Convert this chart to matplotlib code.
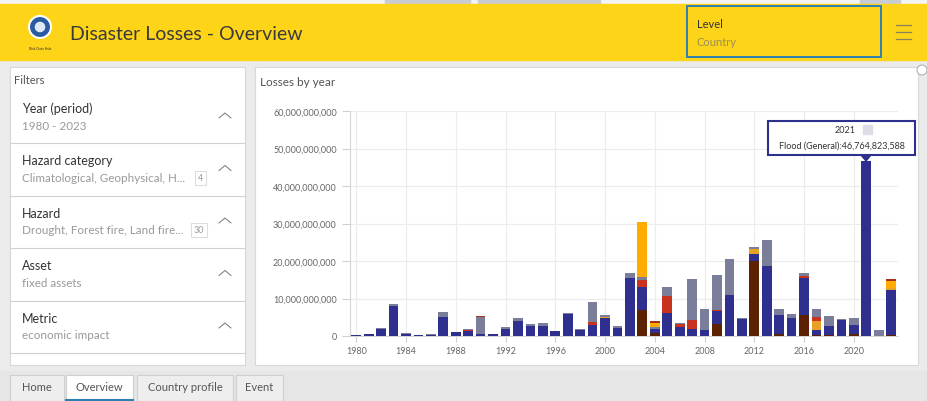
import numpy as np
import matplotlib
matplotlib.use("Agg")
import matplotlib.pyplot as plt
from matplotlib.patches import Rectangle, Circle, Polygon
import matplotlib.ticker as ticker

plt.rcParams['font.family'] = ['Lato', 'DejaVu Sans']

# Data (billions of currency units)
years = list(range(1980, 2024))
drought = [0, 0, 0, 0, 0, 0, 0, 0, 0, 0, 0, 0, 0, 0, 0, 0, 0, 0, 0, 0,
           0, 0, 0, 6.9, 0.9, 0, 0, 0, 0, 3.3, 0, 0, 20.0, 0, 0.5, 0,
           5.6, 0.2, 0.4, 0, 0.6, 0, 0, 0.3]
flood = [0.2, 0.5, 1.9, 8.1, 0.6, 0.3, 0.4, 5.2, 1.0, 1.4, 0.5, 0.5, 2.0,
         4.0, 2.8, 2.6, 1.4, 6.0, 1.5, 3.0, 4.8, 2.1, 15.5, 6.3, 0.9, 6.2,
         2.3, 2.0, 1.7, 3.4, 10.9, 4.6, 1.8, 18.6, 5.2, 4.8, 10.0, 1.5,
         2.4, 4.4, 2.3, 46.764823588, 0, 11.9]
heat_wave = [0, 0, 0, 0, 0, 0, 0, 0, 0, 0, 0, 0, 0, 0, 0, 0, 0, 0, 0, 0,
             0.3, 0, 0, 0, 0, 0, 0, 0, 0, 0, 0, 0, 1.5, 0, 0, 0, 0, 2.4,
             0, 0, 0, 0, 0, 0.6]
earthquake = [0, 0, 0, 0, 0, 0, 0, 0, 0, 0.2, 0, 0, 0, 0, 0, 0, 0, 0, 0,
              0.7, 0, 0, 0, 1.8, 0, 4.6, 1.0, 2.3, 0, 0.2, 0, 0, 0, 0,
              0, 0, 0.3, 1.1, 0, 0, 0, 0, 0, 0]
storm = [0, 0, 0.2, 0.4, 0.2, 0.05, 0.1, 1.1, 0, 0.3, 4.5, 0, 0.3, 0.9,
         0.5, 1.0, 0, 0.2, 0.4, 5.4, 0.4, 0.5, 1.3, 0.7, 0.5, 2.3, 0.2,
         10.8, 5.5, 9.4, 9.7, 0.2, 0.5, 7.1, 1.5, 1.0, 1.0, 2.0, 2.5, 0.1,
         1.9, 0, 1.6, 0]
forest_fire = [0, 0, 0, 0, 0, 0, 0, 0, 0, 0, 0, 0, 0, 0, 0, 0, 0, 0, 0, 0,
               0, 0, 0, 14.8, 1.3, 0, 0, 0, 0, 0, 0, 0, 0, 0, 0, 0, 0, 0,
               0, 0, 0, 0, 0, 1.8]
land_fire = [0, 0, 0, 0, 0, 0, 0, 0, 0, 0, 0.3, 0, 0, 0, 0, 0, 0, 0, 0, 0,
             0, 0, 0, 0, 0.4, 0, 0, 0, 0, 0, 0, 0, 0, 0, 0, 0, 0, 0,
             0, 0, 0, 0, 0, 0.5]

series = [("Drought", drought, "#5b2100"),
          ("Flood (General)", flood, "#2e2f8f"),
          ("Heat wave", heat_wave, "#e8a124"),
          ("Earthquake", earthquake, "#c8321e"),
          ("Storm", storm, "#7a7e9b"),
          ("Forest fire", forest_fire, "#ffab00"),
          ("Land fire", land_fire, "#a8301a")]

filters = [("Year (period)", "1980 - 2023", None),
           ("Hazard category", "Climatological, Geophysical, H...", "4"),
           ("Hazard", "Drought, Forest fire, Land fire...", "30"),
           ("Asset", "fixed assets", None),
           ("Metric", "economic impact", None)]
tabs = ["Home", "Overview", "Country profile", "Event"]

W, H = 927, 402
fig = plt.figure(figsize=(W / 100, H / 100), dpi=100)
fig.patch.set_facecolor("#ebebeb")

# Page overlay in pixel coordinates
bg = fig.add_axes([0, 0, 1, 1])
bg.set_xlim(0, W)
bg.set_ylim(H, 0)
bg.axis("off")

# browser strip + yellow header
bg.add_patch(Rectangle((0, 0), W, 5, color="#f4f4f4"))
for x0, x1 in [(385, 470), (478, 600), (860, 900)]:
    bg.add_patch(Rectangle((x0, 0), x1 - x0, 4, color="#c9cdd3"))
bg.add_patch(Rectangle((0, 5), W, 56, color="#fdd417"))
bg.add_patch(Circle((40, 28), 11, facecolor="#2a5aa0", edgecolor="#ffffff", lw=1.5))
bg.add_patch(Circle((40, 28), 6, facecolor="#dfe8f4", edgecolor="#2a5aa0", lw=1))
bg.text(40, 49, "Risk Data Hub", fontsize=2.5, ha="center", va="center", color="#333")
bg.text(70, 34, "Disaster Losses - Overview", fontsize=14, color="#3a3a3a",
        ha="left", va="center")
bg.add_patch(Rectangle((687, 7), 194, 51, fill=False, edgecolor="#2f7fb3", lw=1.4))
bg.text(697, 24, "Level", fontsize=8, color="#333", va="center")
bg.text(697, 43, "Country", fontsize=8, color="#9a8f5a", va="center")
for yy in [26, 33, 40]:
    bg.plot([896, 911], [yy, yy], color="#8a8060", lw=0.9)

# left filter panel
bg.add_patch(Rectangle((10, 68), 235, 298, facecolor="white", edgecolor="#d8d8d8", lw=0.8))
bg.text(14, 80, "Filters", fontsize=8, color="#555", va="center")
for i, (title, sub, badge) in enumerate(filters):
    y0 = 92 + i * 52.5
    bg.text(22, y0 + 17, title, fontsize=9, color="#333", va="center")
    bg.text(22, y0 + 34, sub, fontsize=8.4, color="#999", va="center")
    bg.plot([219, 225, 231], [y0 + 27, y0 + 22, y0 + 27], color="#777", lw=0.7)
    if badge:
        bw = 16 if len(badge) == 2 else 11
        bx = 191 if len(badge) == 2 else 195
        bg.add_patch(Rectangle((bx, y0 + 27), bw, 14,
                               fill=False, edgecolor="#ddd", lw=0.8))
        bg.text(bx + bw / 2, y0 + 34, badge, fontsize=6.5,
                color="#999", ha="center", va="center")
    bg.plot([11, 244], [y0 + 52, y0 + 52], color="#d0d0d0", lw=0.8)

# right chart panel
bg.add_patch(Rectangle((255, 68), 663, 298, facecolor="white", edgecolor="#d8d8d8", lw=0.8))
bg.text(260, 82, "Losses by year", fontsize=8.5, color="#555", va="center")
bg.add_patch(Circle((922, 71), 5, facecolor="white", edgecolor="#aaa", lw=0.7))

# bottom tabs
bg.add_patch(Rectangle((0, 372), W, 30, color="#e6e6e6"))
tab_x = [10, 66, 137, 236]
tab_w = [54, 67, 96, 47]
for name, x0, w in zip(tabs, tab_x, tab_w):
    active = name == "Overview"
    bg.add_patch(Rectangle((x0, 376), w, 26, facecolor="white" if active else "#eeeeee",
                           edgecolor="#cfcfcf", lw=0.8))
    bg.text(x0 + w / 2, 388, name, fontsize=8, color="#555", ha="center", va="center")
    if active:
        bg.plot([x0, x0 + w], [401, 401], color="#2f7fb3", lw=1.5)

# chart
ax = fig.add_axes([350 / W, (H - 337) / H, 548 / W, 225 / H])
x = np.array(years)
bottom = np.zeros(len(years))
for name, vals, color in series:
    v = np.array(vals) * 1e9
    ax.bar(x, v, width=0.78, bottom=bottom, color=color, label=name, zorder=3)
    bottom += v

ax.set_xlim(1979.5, 2023.55)
ax.set_ylim(0, 60e9)
ax.set_xticks(range(1980, 2024, 4))
ax.set_yticks(np.arange(0, 61e9, 10e9))
ax.yaxis.set_major_formatter(ticker.FuncFormatter(lambda v, p: "{:,.0f}".format(v)))
ax.grid(True, color="#ececec", lw=0.8, zorder=0)
for s in ["top", "right"]:
    ax.spines[s].set_visible(False)
ax.spines["left"].set_color("#d6d6d6")
ax.spines["bottom"].set_color("#d6d6d6")
ax.tick_params(colors="#d0d0d0", labelcolor="#666", labelsize=6.5, length=4, width=0.8)
ax.tick_params(axis="y", length=6)
ax.set_facecolor("white")

# tooltip for 2021
tip = fig.add_axes([0, 0, 1, 1], facecolor="none")
tip.set_xlim(0, W)
tip.set_ylim(H, 0)
tip.axis("off")
tip.add_patch(Rectangle((768, 122), 147, 34, facecolor="white", edgecolor="#2e2f8f", lw=1.5, zorder=5))
tip.add_patch(Polygon([[861, 156], [871, 156], [866, 162]], closed=True,
                      facecolor="#2e2f8f", edgecolor="#2e2f8f", zorder=5))
tip.text(856, 131, str(years[41]), fontsize=6.5, color="#333", ha="right", va="center", zorder=6)
tip.add_patch(Rectangle((863, 126), 9, 9, color="#dcdde6", zorder=6))
tip.text(842, 146, "Flood (General):{:,.0f}".format(flood[41] * 1e9), fontsize=6.5,
         color="#333", ha="center", va="center", zorder=6)

fig.savefig("out.png", dpi=100)
